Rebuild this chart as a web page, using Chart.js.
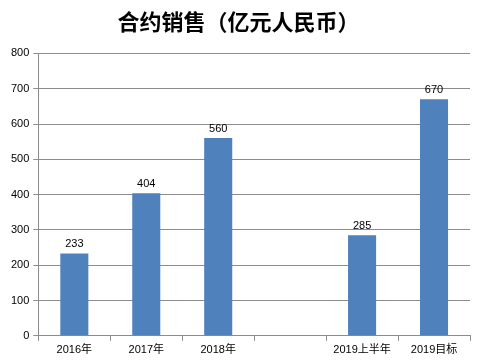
<!DOCTYPE html>
<html>
<head>
<meta charset="utf-8">
<script src="https://cdn.jsdelivr.net/npm/chart.js@4"></script>
<style>
  html, body { margin: 0; padding: 0; background: #fff; }
  #wrap { width: 482px; height: 360px; position: relative; }
</style>
</head>
<body>
<div id="wrap"><canvas id="salesChart"></canvas></div>
<script>
// chart data
const categories = ["2016年", "2017年", "2018年", "", "2019上半年", "2019目标"];
const salesValues = [233, 404, 560, null, 285, 670];
const yTicks = [0, 100, 200, 300, 400, 500, 600, 700, 800];

// draw numbers above the bars
const barLabels = {
    id: "barLabels",
    afterDatasetsDraw(chart) {
        const ctx = chart.ctx;
        const meta = chart.getDatasetMeta(0);
        ctx.save();
        ctx.font = "11px 'Liberation Sans', Arial, sans-serif";
        ctx.fillStyle = "#000";
        ctx.textAlign = "center";
        ctx.textBaseline = "bottom";
        meta.data.forEach(function (bar, i) {
            const v = salesValues[i];
            if (v === null) return;
            ctx.fillText(String(v), bar.x, bar.y - 4);
        });
        ctx.restore();
    }
};

const canvas = document.getElementById("salesChart");
new Chart(canvas.getContext("2d"), {
    type: "bar",
    data: {
        labels: categories,
        datasets: [{
            label: "合约销售",
            data: salesValues,
            backgroundColor: "#4F81BD",
            borderWidth: 0,
            barPercentage: 0.78,
            categoryPercentage: 0.5
        }]
    },
    options: {
        responsive: true,
        maintainAspectRatio: false,
        animation: false,
        layout: { padding: { left: 7, right: 12, top: 0, bottom: 0 } },
        plugins: {
            legend: { display: false },
            tooltip: { enabled: false },
            title: {
                display: true,
                text: "合约销售（亿元人民币）",
                color: "#000",
                font: { family: "'Noto Sans CJK SC'", size: 22, weight: "bold" },
                padding: { top: 8, bottom: 19 }
            }
        },
        scales: {
            x: {
                grid: {
                    offset: true,
                    drawOnChartArea: false,
                    color: "#8c8c8c",
                    tickLength: 5
                },
                border: { color: "#8c8c8c" },
                ticks: {
                    color: "#000",
                    font: { family: "'Liberation Sans', 'Noto Sans CJK SC', sans-serif", size: 11 },
                    maxRotation: 0,
                    autoSkip: false,
                    padding: 3
                }
            },
            y: {
                min: 0,
                max: 800,
                afterBuildTicks(axis) {
                    axis.ticks = yTicks.map(v => ({ value: v }));
                },
                grid: {
                    color: "#8c8c8c",
                    tickLength: 5
                },
                border: { color: "#8c8c8c" },
                ticks: {
                    color: "#000",
                    font: { family: "'Liberation Sans', sans-serif", size: 11 },
                    padding: 4
                }
            }
        }
    },
    plugins: [barLabels]
});
</script>
</body>
</html>
